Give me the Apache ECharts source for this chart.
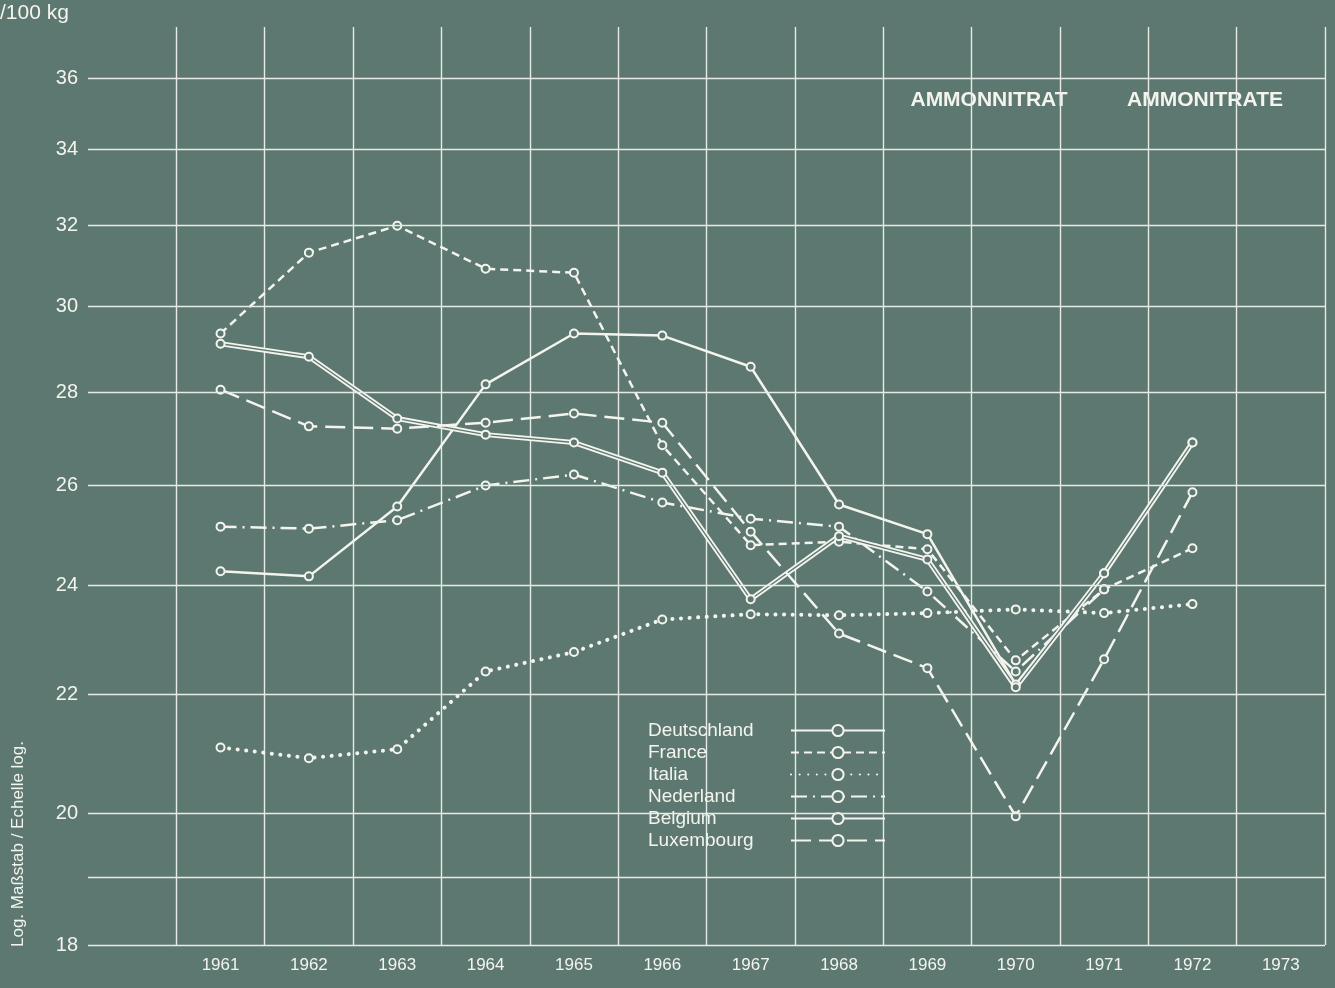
<!DOCTYPE html>
<html>
<head>
<meta charset="utf-8">
<script src="https://cdn.jsdelivr.net/npm/echarts@6/dist/echarts.min.js"></script>
<style>
html,body{margin:0;padding:0;background:#5d7871;}
#chart{width:1335px;height:988px;}
</style>
</head>
<body>
<div id="chart"></div>
<script>
// ---- data ----
var years = ['1961','1962','1963','1964','1965','1966','1967','1968','1969','1970','1971','1972','1973'];
var yTicks = [18, 19, 20, 22, 24, 26, 28, 30, 32, 34, 36];
var yTickLabels = ['18', '', '20', '22', '24', '26', '28', '30', '32', '34', '36'];

var deutschland = [24.27, 24.17, 25.56, 28.18, 29.35, 29.30, 28.58, 25.60, 25.00, 22.17, 24.23, 26.90, null];
var france      = [29.35, 31.31, 31.99, 30.91, 30.81, 26.84, 24.78, 24.85, 24.70, 22.60, 23.92, 24.72, null];
var italia      = [21.08, 20.90, 21.05, 22.40, 22.75, 23.35, 23.45, 23.43, 23.47, 23.54, 23.47, 23.64, null];
var nederland   = [25.15, 25.11, 25.28, 25.99, 26.22, 25.64, 25.31, 25.15, 23.88, 22.40, 23.92, null, null];
var belgium     = [29.11, 28.81, 27.42, 27.07, 26.90, 26.26, 23.73, 24.96, 24.50, 22.12, 24.23, 26.90, null];
var luxembourg  = [28.06, 27.25, 27.20, 27.33, 27.53, 27.33, 25.05, 23.09, 22.46, 19.95, 22.62, 25.85, null];

var BG = '#5d7871';
var INK = '#f3f4ee';
var GRID = '#e6ebe5';
var FONT = '"Liberation Sans", Arial, sans-serif';

function pad(arr){ return [null].concat(arr); }

function lineSeries(name, data, lineStyle, z){
  return {
    name: name, type: 'line', data: pad(data), z: z || 3,
    symbol: 'circle', symbolSize: 8, connectNulls: false,
    itemStyle: {color: BG, borderColor: INK, borderWidth: 2},
    lineStyle: Object.assign({color: INK, width: 2.5}, lineStyle),
    emphasis: {disabled: true}, animation: false
  };
}

var chart = echarts.init(document.getElementById('chart'), null, {renderer: 'canvas'});

var option = {
  backgroundColor: BG,
  animation: false,
  textStyle: {fontFamily: FONT},
  grid: {left: 88, right: 10, top: 27, bottom: 43, containLabel: false},
  xAxis: {
    type: 'category',
    data: [''].concat(years),
    boundaryGap: true,
    axisLine: {show: false},
    axisTick: {show: false},
    axisLabel: {color: INK, fontSize: 17, margin: 12, fontFamily: FONT},
    splitLine: {show: true, interval: function(i){ return i > 0; }, lineStyle: {color: GRID, width: 1.4}}
  },
  yAxis: {
    type: 'log', logBase: 10, min: 18, max: 37.5,
    axisLine: {show: false}, axisTick: {show: false},
    axisLabel: {show: false}, splitLine: {show: false}
  },
  legend: {
    orient: 'vertical',
    left: 643, top: 716,
    itemWidth: 94, itemHeight: 14, itemGap: 3,
    align: 'right',
    data: ['Deutschland','France','Italia','Nederland','Belgium','Luxembourg'],
    formatter: function(name){ return '{a|' + name + '}'; },
    textStyle: {
      color: INK, fontSize: 19, fontFamily: FONT,
      rich: {a: {width: 138, align: 'left', color: INK, fontSize: 19, lineHeight: 19, fontFamily: FONT}}
    },
    selectedMode: false,
    inactiveColor: INK
  },
  graphic: [
    {type: 'text', left: 0, top: 3, style: {text: '/100 kg', fill: INK, font: '21px ' + FONT}},
    {type: 'text', x: 18, y: 844, rotation: Math.PI/2,
     style: {text: 'Log. Maßstab / Echelle log.', fill: INK, font: '17px ' + FONT, textAlign: 'center', textVerticalAlign: 'middle'}},
    {type: 'text', x: 989, y: 100, style: {text: 'AMMONNITRAT', fill: INK, font: 'bold 21px ' + FONT, textAlign: 'center', textVerticalAlign: 'middle'}},
    {type: 'text', x: 1205, y: 100, style: {text: 'AMMONITRATE', fill: INK, font: 'bold 21px ' + FONT, textAlign: 'center', textVerticalAlign: 'middle'}}
  ],
  series: [
    {
      name: '_grid', type: 'line', data: [], silent: true, z: 1,
      markLine: {
        silent: true, symbol: ['none','none'], animation: false,
        lineStyle: {color: GRID, width: 1.4, type: 'solid'},
        label: {position: 'start', color: INK, fontSize: 20, fontFamily: FONT, distance: 10},
        emphasis: {disabled: true},
        data: yTicks.map(function(v, i){
          return {yAxis: v, label: {show: yTickLabels[i] !== '', formatter: yTickLabels[i]}};
        })
      }
    },
    lineSeries('Deutschland', deutschland, {type: 'solid'}),
    lineSeries('France', france, {type: [8, 5]}),
    lineSeries('Italia', italia, {type: [0.1, 8.5], cap: 'round', width: 4}),
    lineSeries('Nederland', nederland, {type: [16, 6, 2, 6]}),
    lineSeries('Belgium', belgium, {type: 'solid', width: 5}),
    {
      name: 'Belgium', type: 'line', data: pad(belgium), z: 3,
      symbol: 'none', silent: true, animation: false,
      lineStyle: {color: BG, width: 1.3, type: 'solid'},
      itemStyle: {color: BG}
    },
    lineSeries('Luxembourg', luxembourg, {type: [20, 8]})
  ]
};

chart.setOption(option);
</script>
</body>
</html>
